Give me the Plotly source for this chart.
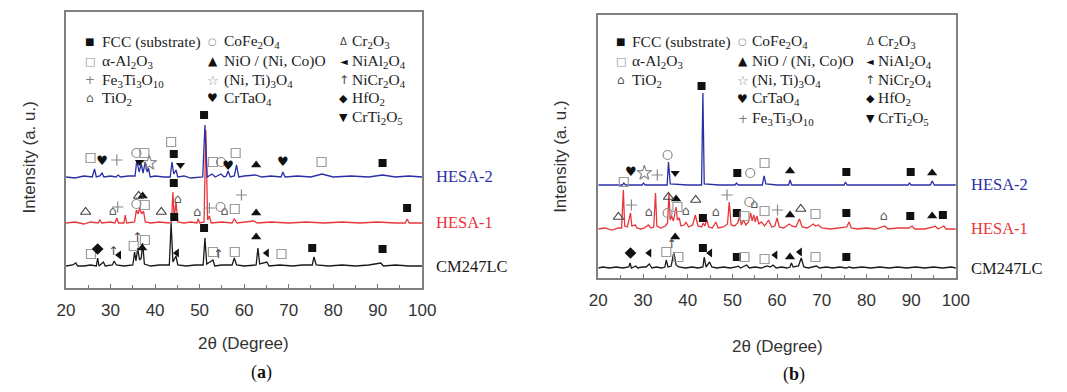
import plotly.graph_objects as go

W, H = 1067, 392

# ---------------- data (2theta in degrees, intensity in a.u. incl. vertical offset) ----------------
# Panel (a)
A_HESA2 = [(20,111),(22,110),(24,112),(25.9,111),(26.4,119),(26.8,111),(27.6,112),(28.1,115),(28.5,111),
           (30,112),(31.2,111),(31.7,113),(32.2,111),(34,112),(35.5,112),(35.9,128),(36.4,116),(36.9,124),
           (37.3,115),(37.8,126),(38.2,116),(38.5,120),(38.9,111),(40,112),(42,111),(43.4,111),(43.8,126),
           (44.2,114),(44.7,118),(45.1,111),(46.5,112),(48,110),(50.7,111),(51.2,163),(51.7,111),(52.8,114),
           (53.5,111),(54.8,114),(55.5,111),(56.0,112),(56.4,117),(56.9,111),(57.8,112),(58.3,123),(58.8,111),
           (60,112),(62.5,113),(64,111),(66,112),(68.3,111),(68.7,116),(69.2,111),(72,112),(75,111),(77.5,114),
           (80,111),(84,112),(88,111),(91.1,113),(94,111),(97,112),(100,111)]
A_HESA1 = [(20,65),(22,66),(24,64),(25.5,66),(27.2,65),(27.6,68),(28,65),(30,66),(31,65),(31.4,70),(31.8,65),
           (33,65),(33.3,73),(33.6,65),(35.4,66),(35.8,78),(36.2,74),(36.5,80),(37,74),(37.4,77),(37.8,66),
           (39,65),(41,66),(43,65),(43.7,66),(44.0,96),(44.3,70),(44.7,86),(45.1,66),(46.5,65),(48,66),
           (49.4,65),(49.7,69),(50,65),(51.0,66),(51.4,158),(51.8,68),(52.2,72),(52.6,65),(55,66),(57.3,65),
           (57.8,69),(58.4,65),(60,66),(62.1,67),(63,65),(66,66),(70,65),(74,66),(78,65),(82,66),(86,65),
           (90,66),(94,65),(96.2,65),(96.6,69),(97.1,65),(100,65)]
A_CM247LC = [(20,22),(21.5,23),(22.2,25),(22.6,22),(24,22),(25.5,23),(26.8,22),(27.1,30),(27.4,22),(28.4,26),
             (28.8,22),(30.4,23),(30.8,27),(31.3,23),(33,22),(35.0,23),(35.4,36),(35.7,27),(36.1,40),(36.5,28),
             (36.9,30),(37.2,45),(37.6,24),(39,22),(41,23),(43.2,23),(43.6,65),(44.0,26),(44.7,32),(45.1,23),
             (47,22),(49,23),(50.8,23),(51.2,50),(51.6,24),(53.0,28),(53.4,22),(55,23),(57.3,23),(57.8,30),
             (58.3,23),(60,22),(62.7,23),(63.1,40),(63.5,24),(65.1,26),(65.6,22),(68,23),(71,22),(73,23),
             (75.3,23),(75.7,31),(76.2,23),(79,22),(82,23),(85,22),(88,23),(90.7,25),(91.3,22),(94,23),
             (97,22),(100,22)]

# Panel (b)
B_HESA2 = [(20,93),(23,93),(25.4,93),(25.7,95),(26.1,93),(29.8,93),(30.1,95),(30.5,93),(33,93),(35.4,93),
           (35.7,116),(36.1,94),(40,93),(43.1,93),(43.4,185),(43.7,94),(47,93),(50.6,93),(50.9,95),(51.3,93),
           (56.7,93),(57.1,102),(57.5,94),(60,93),(62.6,93),(62.9,98),(63.3,93),(68,93),(72,93),(75.0,93),
           (75.3,96),(75.7,93),(80,93),(85,93),(89.3,93),(89.6,95),(90,93),(94.3,93),(94.7,97),(95.2,93),(100,93)]
B_HESA1 = [(20,49),(21.5,50),(23,48),(24.5,50),(25.2,50),(25.6,88),(25.9,52),(26.5,51),(27.2,65),(27.5,52),
           (28.3,53),(28.6,50),(29.5,49),(30.3,50),(31.2,53),(31.8,50),(32.4,51),(32.8,85),(33.1,52),(34,50),
           (35,52),(35.5,55),(35.8,85),(36.1,58),(36.4,62),(36.8,57),(37.1,64),(37.4,71),(37.7,58),(38.1,60),
           (38.5,52),(39.2,53),(39.6,56),(40.2,51),(41.1,53),(41.7,63),(42.3,52),(43.1,51),(43.5,55),(43.8,52),
           (44.3,58),(44.7,51),(45.5,50),(46.3,56),(46.8,50),(48,51),(48.9,54),(49.3,76),(49.7,53),(50.5,52),
           (51.2,55),(51.6,62),(52.0,53),(52.5,58),(53.0,53),(53.6,56),(54.1,65),(54.4,57),(54.8,63),(55.1,56),
           (55.5,62),(55.9,54),(56.5,56),(57.2,52),(58.1,58),(58.8,51),(59.5,52),(60.0,60),(60.5,51),(61.5,50),
           (62.7,54),(63.3,52),(64.2,51),(65.0,59),(65.6,51),(66.8,50),(68.1,54),(68.6,52),(69.2,53),(70,50),
           (72,49),(74,50),(75.6,51),(76.1,56),(76.6,50),(78,49),(80,50),(82,49),(84.1,52),(84.8,49),(87,50),
           (89.5,50),(90.2,52),(90.8,49),(93,49),(95.0,51),(95.4,52),(96,49),(97.3,52),(97.8,49),(100,49)]
B_CM247LC = [(20,10),(21,11),(22.5,10),(24,11),(25.5,10),(26.8,11),(27.1,15),(27.4,10),(28.4,12),(28.8,10),
             (29.8,11),(30.7,11),(31.4,14),(32,10),(33,11),(34.2,10),(34.9,11),(35.2,18),(35.6,11),(36.3,12),
             (36.9,26),(37.4,13),(38,11),(39.5,10),(41,11),(42.3,10),(43.4,11),(43.7,21),(44.1,11),(44.9,16),
             (45.4,11),(46.5,10),(48,11),(49.5,10),(50.9,11),(51.3,12),(51.8,10),(53.2,13),(53.8,10),(55,11),
             (56.5,10),(57.8,12),(58.5,11),(59.1,13),(59.8,10),(61,11),(62.2,10),(62.9,11),(63.2,15),(63.6,11),
             (64.8,12),(65.4,20),(66,11),(67,10),(68.8,12),(69.5,10),(71,11),(72.5,10),(74,11),(75.5,10),
             (76.1,11),(77,10),(79,11),(81,10),(83,11),(85,10),(87,11),(89,10),(91,11),(93,10),(95,11),
             (97,10),(99,11),(100,10)]

# Phase markers: (phase, 2theta, intensity level)
MARK_A = [
    ('al2o3',25.5,130),('crtao4',28.1,126),('fe3ti3o10',31.4,128),('cofe2o4',35.8,135),('crti2o5',36.5,126),
    ('al2o3',37.6,135),('niti3o4',38.7,125),('al2o3',43.6,146),('fcc',44.2,134),('crti2o5',45.7,123),
    ('fcc',51.0,173),('al2o3',53.0,126),('cofe2o4',54.8,126),('crtao4',56.4,121),('al2o3',58.1,135),
    ('nio',62.7,123),('crtao4',68.7,125),('al2o3',77.4,126),('fcc',91.1,125),
    ('cr2o3',24.4,76),('tio2',30.5,76),('fe3ti3o10',31.6,81),('cofe2o4',35.8,84),('al2o3',37.7,83),
    ('cr2o3',36.3,92),('nio',37.2,92),('cr2o3',41.4,76),('fcc',44.2,105),('tio2',45.1,88),('tio2',49.5,75),
    ('fe3ti3o10',52.2,80),('cofe2o4',54.7,81),('tio2',55.6,76),('al2o3',57.9,79),('fe3ti3o10',59.4,93),
    ('nio',62.7,75),('fcc',96.6,80),
    ('al2o3',25.6,34),('hfo2',27.1,39),('nicr2o4',30.6,36),('nial2o4',31.9,33),('al2o3',35.2,42),
    ('nicr2o4',36.0,50),('al2o3',37.7,48),('nio',37.1,40),('fcc',44.3,71),('nial2o4',44.9,35),
    ('fcc',51.0,60),('al2o3',53.0,36),('nicr2o4',54.2,33),('al2o3',57.9,36),('nio',62.7,51),
    ('nial2o4',65.1,35),('al2o3',68.4,34),('fcc',75.3,40),('fcc',91.1,39),
]
MARK_B = [
    ('al2o3',25.7,96),('crtao4',27.3,105),('niti3o4',30.3,105),('fe3ti3o10',33.2,103),('cofe2o4',35.5,123),
    ('crti2o5',37.2,105),('fcc',43.1,192),('fcc',51.1,105),('cofe2o4',54.0,105),('al2o3',57.2,115),
    ('nio',62.9,107),('fcc',75.5,106),('fcc',89.9,106),('nio',94.7,105),
    ('cr2o3',24.5,61),('fe3ti3o10',27.4,73),('tio2',31.3,65),('cofe2o4',35.5,65),('cr2o3',35.7,81),
    ('nio',37.4,79),('al2o3',37.7,71),('tio2',39.6,66),('cr2o3',41.8,78),('fcc',43.4,60),('tio2',46.3,65),
    ('fe3ti3o10',48.8,83),('fcc',51.0,65),('al2o3',52.7,62),('cofe2o4',53.8,76),('tio2',54.9,73),
    ('al2o3',57.2,67),('fe3ti3o10',60.1,68),('nio',62.9,63),('cr2o3',65.3,69),('al2o3',68.6,64),
    ('fcc',75.5,65),('tio2',83.9,61),('fcc',89.8,62),('nio',94.7,62),('fcc',97.1,63),
    ('hfo2',27.2,25),('nial2o4',31.4,25),('al2o3',35.2,26),('nicr2o4',36.4,33),('nio',37.2,41),
    ('al2o3',37.9,21),('fcc',43.4,30),('nial2o4',45.0,25),('fcc',51.0,21),('al2o3',52.7,21),
    ('al2o3',57.2,19),('nial2o4',59.6,23),('nio',62.9,21),('nial2o4',65.1,26),('al2o3',68.6,21),
    ('fcc',75.5,21),
]

SERIES = ['HESA-2', 'HESA-1', 'CM247LC']
X_TICKS = [20, 30, 40, 50, 60, 70, 80, 90, 100]

PHASE_NAMES = {
    'fcc': 'FCC (substrate)', 'al2o3': 'α-Al<sub>2</sub>O<sub>3</sub>',
    'fe3ti3o10': 'Fe<sub>3</sub>Ti<sub>3</sub>O<sub>10</sub>', 'tio2': 'TiO<sub>2</sub>',
    'cofe2o4': 'CoFe<sub>2</sub>O<sub>4</sub>', 'nio': 'NiO / (Ni, Co)O',
    'niti3o4': '(Ni, Ti)<sub>3</sub>O<sub>4</sub>', 'crtao4': 'CrTaO<sub>4</sub>',
    'cr2o3': 'Cr<sub>2</sub>O<sub>3</sub>', 'nial2o4': 'NiAl<sub>2</sub>O<sub>4</sub>',
    'nicr2o4': 'NiCr<sub>2</sub>O<sub>4</sub>', 'hfo2': 'HfO<sub>2</sub>',
    'crti2o5': 'CrTi<sub>2</sub>O<sub>5</sub>',
}

# ---------------- styles ----------------
COLORS = {'HESA-2': '#2b2fa6', 'HESA-1': '#e8373a', 'CM247LC': '#1a1a1a'}
STYLE = {
    'fcc':       dict(kind='m', symbol='square', color='#111111', size=8),
    'al2o3':     dict(kind='m', symbol='square-open', color='#9c9c9c', size=9),
    'fe3ti3o10': dict(kind='m', symbol='cross-thin', color='#8a8a8a', size=8),
    'tio2':      dict(kind='t', glyph='⌂', color='#555555', size=13),
    'cofe2o4':   dict(kind='m', symbol='circle-open', color='#8a8a8a', size=9),
    'nio':       dict(kind='m', symbol='triangle-up', color='#111111', size=9),
    'niti3o4':   dict(kind='m', symbol='star-open', color='#8a8a8a', size=11),
    'crtao4':    dict(kind='t', glyph='♥', color='#111111', size=13),
    'cr2o3':     dict(kind='m', symbol='triangle-up-open', color='#444444', size=9),
    'nial2o4':   dict(kind='m', symbol='triangle-left', color='#111111', size=8),
    'nicr2o4':   dict(kind='t', glyph='↑', color='#444444', size=12),
    'hfo2':      dict(kind='m', symbol='diamond', color='#111111', size=9),
    'crti2o5':   dict(kind='m', symbol='triangle-down', color='#111111', size=8),
}
LEG_GLYPH = {'fcc': '■', 'al2o3': '□', 'fe3ti3o10': '+', 'tio2': '⌂', 'cofe2o4': '○', 'nio': '▲',
             'niti3o4': '☆', 'crtao4': '♥', 'cr2o3': 'Δ', 'nial2o4': '◄', 'nicr2o4': '↑', 'hfo2': '◆',
             'crti2o5': '▼'}
LEG_GLYPH_COLOR = {'fcc': '#111111', 'al2o3': '#8c8c8c', 'fe3ti3o10': '#808080', 'tio2': '#555555',
                   'cofe2o4': '#8c8c8c', 'nio': '#111111', 'niti3o4': '#8c8c8c', 'crtao4': '#111111',
                   'cr2o3': '#444444', 'nial2o4': '#111111', 'nicr2o4': '#444444', 'hfo2': '#111111',
                   'crti2o5': '#111111'}
LEG_GLYPH_SIZE = {'fcc': 10, 'al2o3': 11, 'fe3ti3o10': 12, 'tio2': 12, 'cofe2o4': 10, 'nio': 12,
                  'niti3o4': 13, 'crtao4': 12, 'cr2o3': 10, 'nial2o4': 10, 'nicr2o4': 12, 'hfo2': 11,
                  'crti2o5': 11}

# layout geometry (pixels)
PANELS = {
    'a': dict(x0=58.3, x1=422.3, top=12, bot=288, xa='x', ya='y'),
    'b': dict(x0=602.3, x1=967.7, top=15, bot=278, xa='x2', ya='y2'),
}
LEGEND = {
    'a': dict(cols=[(82.7, 93), (208, 218), (342, 349)], rows=[42, 61, 80, 98.5, 118],
              items=[['fcc', 'al2o3', 'fe3ti3o10', 'tio2'],
                     ['cofe2o4', 'nio', 'niti3o4', 'crtao4'],
                     ['cr2o3', 'nial2o4', 'nicr2o4', 'hfo2', 'crti2o5']]),
    'b': dict(cols=[(625, 635), (750, 757), (880, 886)], rows=[42, 61, 80, 99, 118.5],
              items=[['fcc', 'al2o3', 'tio2'],
                     ['cofe2o4', 'nio', 'niti3o4', 'crtao4', 'fe3ti3o10'],
                     ['cr2o3', 'nial2o4', 'nicr2o4', 'hfo2', 'crti2o5']]),
}
SERIES_LABEL_POS = {'a': dict(x=434, ys=[177, 222.5, 266]), 'b': dict(x=981, ys=[185, 229, 268])}
YTITLE_POS = {'a': (20, 158), 'b': (563, 157)}
XTITLE_POS = {'a': (240, 343), 'b': (785, 346)}
CAPTION_POS = {'a': (258, 372, 'a'), 'b': (802, 374, 'b')}

def pxx(x):
    return x / W

def pxy(y):
    return 1 - y / H

fig = go.Figure()

panel_data = {
    'a': {'HESA-2': A_HESA2, 'HESA-1': A_HESA1, 'CM247LC': A_CM247LC},
    'b': {'HESA-2': B_HESA2, 'HESA-1': B_HESA1, 'CM247LC': B_CM247LC},
}
panel_marks = {'a': MARK_A, 'b': MARK_B}

for key, geo in PANELS.items():
    for name in ['CM247LC', 'HESA-1', 'HESA-2']:
        pts = panel_data[key][name]
        fig.add_trace(go.Scatter(
            x=[p[0] for p in pts], y=[p[1] for p in pts], mode='lines',
            line=dict(color=COLORS[name], width=1.3), xaxis=geo['xa'], yaxis=geo['ya'],
            showlegend=False, hoverinfo='skip'))
    marks = panel_marks[key]
    for phase, st in STYLE.items():
        sel = [m for m in marks if m[0] == phase]
        if not sel:
            continue
        xs = [m[1] for m in sel]
        ys = [m[2] for m in sel]
        if st['kind'] == 'm':
            open_sym = st['symbol'].endswith('open') or st['symbol'].startswith('cross')
            fig.add_trace(go.Scatter(
                x=xs, y=ys, mode='markers', xaxis=geo['xa'], yaxis=geo['ya'],
                marker=dict(symbol=st['symbol'], size=st['size'], color=st['color'],
                            line=dict(color=st['color'], width=1.2 if open_sym else 0)),
                showlegend=False, hoverinfo='skip'))
        else:
            fig.add_trace(go.Scatter(
                x=xs, y=ys, mode='text', text=[st['glyph']] * len(xs), textposition='middle center',
                textfont=dict(family='DejaVu Sans', size=st['size'], color=st['color']),
                xaxis=geo['xa'], yaxis=geo['ya'], showlegend=False, hoverinfo='skip'))

annotations = []
for key, lg in LEGEND.items():
    for ci, col in enumerate(lg['items']):
        sx, tx = lg['cols'][ci]
        for ri, phase in enumerate(col):
            yy = lg['rows'][ri]
            annotations.append(dict(
                x=pxx(sx), y=pxy(yy), xref='paper', yref='paper', xanchor='center', yanchor='middle',
                text=LEG_GLYPH[phase], showarrow=False,
                font=dict(family='DejaVu Sans', size=LEG_GLYPH_SIZE[phase], color=LEG_GLYPH_COLOR[phase])))
            annotations.append(dict(
                x=pxx(tx), y=pxy(yy), xref='paper', yref='paper', xanchor='left', yanchor='middle',
                text=PHASE_NAMES[phase], showarrow=False,
                font=dict(family='Liberation Serif', size=15.5, color='#222222')))

for key, pos in SERIES_LABEL_POS.items():
    for name, yy in zip(SERIES, pos['ys']):
        annotations.append(dict(
            x=pxx(pos['x']), y=pxy(yy), xref='paper', yref='paper', xanchor='left', yanchor='middle',
            text=name, showarrow=False,
            font=dict(family='Liberation Serif', size=16.5, color=COLORS[name])))

for key, (x, y) in YTITLE_POS.items():
    annotations.append(dict(x=pxx(x), y=pxy(y), xref='paper', yref='paper', xanchor='center',
                            yanchor='middle', text='Intensity (a. u.)', textangle=-90, showarrow=False,
                            font=dict(family='Liberation Sans', size=17, color='#333333')))
for key, (x, y) in XTITLE_POS.items():
    annotations.append(dict(x=pxx(x), y=pxy(y), xref='paper', yref='paper', xanchor='center',
                            yanchor='middle', text='2θ (Degree)', showarrow=False,
                            font=dict(family='Liberation Sans', size=17, color='#333333')))
for key, (x, y, lab) in CAPTION_POS.items():
    annotations.append(dict(x=pxx(x), y=pxy(y), xref='paper', yref='paper', xanchor='center',
                            yanchor='middle', text='(<b>%s</b>)' % lab, showarrow=False,
                            font=dict(family='Liberation Serif', size=18, color='#111111')))

def xaxis_cfg(geo):
    return dict(domain=[pxx(geo['x0']), pxx(geo['x1'])], range=[20, 100], tickvals=X_TICKS,
                ticktext=[str(t) for t in X_TICKS], ticks='inside', ticklen=4, tickcolor='#777777',
                minor=dict(dtick=5, ticks='inside', ticklen=3, tickcolor='#777777'),
                showline=True, linecolor='#808080', linewidth=1.5, mirror=True, showgrid=False,
                zeroline=False, tickfont=dict(family='Liberation Sans', size=17, color='#333333'),
                ticklabelstandoff=6)

def yaxis_cfg(geo):
    return dict(domain=[pxy(geo['bot']), pxy(geo['top'])], range=[0, geo['bot'] - geo['top']],
                showticklabels=False, ticks='', showline=True, linecolor='#808080', linewidth=1.5,
                mirror=True, showgrid=False, zeroline=False)

fig.update_layout(
    width=W, height=H, margin=dict(l=0, r=0, t=0, b=0), paper_bgcolor='white', plot_bgcolor='white',
    xaxis=dict(anchor='y', **xaxis_cfg(PANELS['a'])),
    yaxis=dict(anchor='x', **yaxis_cfg(PANELS['a'])),
    xaxis2=dict(anchor='y2', **xaxis_cfg(PANELS['b'])),
    yaxis2=dict(anchor='x2', **yaxis_cfg(PANELS['b'])),
    annotations=annotations, showlegend=False,
)

fig.write_html('out.html')
